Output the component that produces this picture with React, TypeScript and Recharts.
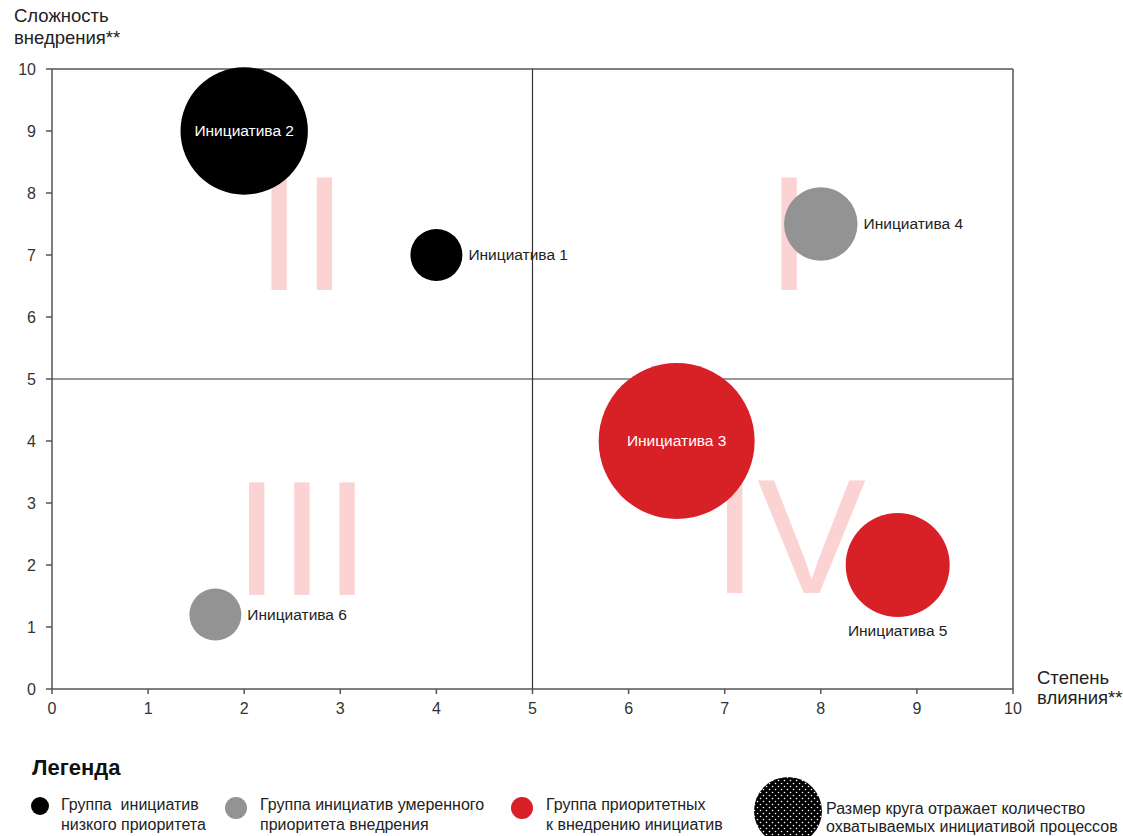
import { ScatterChart, Scatter, XAxis, YAxis, ZAxis, ReferenceLine } from 'recharts';

// initiatives: impact (x), implementation complexity (y), number of processes covered (bubble size)
const initiatives = ['Инициатива 1', 'Инициатива 2', 'Инициатива 3', 'Инициатива 4', 'Инициатива 5', 'Инициатива 6'];
const impact = [4, 2, 6.5, 8, 8.8, 1.7];
const complexity = [7, 9, 4, 7.5, 2, 1.2];
const processes = [2, 12, 18, 4, 8, 2];
const priority = ['low', 'low', 'high', 'moderate', 'high', 'moderate'];

// quadrant numerals
const quadrantNames = ['I', 'II', 'III', 'IV'];
const quadrantX = [7.67, 2.6, 2.6, 7.67];
const quadrantY = [6.43, 6.43, 1.52, 1.55];

const axisTicks = [0, 1, 2, 3, 4, 5, 6, 7, 8, 9, 10];

const legendItems = [
    'Группа  инициатив\nнизкого приоритета',
    'Группа инициатив умеренного\nприоритета внедрения',
    'Группа приоритетных\nк внедрению инициатив',
];

const FONT = '"Liberation Sans", Arial, sans-serif';
const GROUP_COLOR: Record<string, string> = { low: '#000000', moderate: '#939393', high: '#d82027' };
const LABEL_SIDE: Record<string, string> = {
    'Инициатива 1': 'right',
    'Инициатива 2': 'inside',
    'Инициатива 3': 'inside',
    'Инициатива 4': 'right',
    'Инициатива 5': 'below',
    'Инициатива 6': 'right',
};
const MAX_R = 78;

const points = initiatives.map((name, i) => ({
    name,
    x: impact[i],
    y: complexity[i],
    z: processes[i],
    group: priority[i],
}));

const quadrants = quadrantNames.map((name, i) => ({ name, x: quadrantX[i], y: quadrantY[i] }));

function Bubble(props: any) {
    const { cx, cy, payload } = props;
    const r = props.width ? props.width / 2 : Math.sqrt((props.size || 0) / Math.PI);
    const side = LABEL_SIDE[payload.name];
    let label = null;
    if (side === 'inside') {
        label = <text x={cx} y={cy + 5} textAnchor="middle" fill="#fff" fontSize={15.5} fontFamily={FONT}>{payload.name}</text>;
    } else if (side === 'right') {
        label = <text x={cx + r + 6} y={cy + 5} textAnchor="start" fill="#222" fontSize={15.5} fontFamily={FONT}>{payload.name}</text>;
    } else {
        label = <text x={cx} y={cy + r + 19} textAnchor="middle" fill="#222" fontSize={15.5} fontFamily={FONT}>{payload.name}</text>;
    }
    return (
        <g>
            <circle cx={cx} cy={cy} r={r} fill={GROUP_COLOR[payload.group]} />
            {label}
        </g>
    );
}

function Numeral(props: any) {
    const { cx, cy, payload } = props;
    return (
        <text x={cx} y={cy} textAnchor="middle" fill="#fbd3d3" fontSize={163} fontFamily={FONT}>{payload.name}</text>
    );
}

const tickStyle = { fontSize: 16, fill: '#333', fontFamily: FONT };
const axisStroke = { stroke: '#555', strokeWidth: 1.5 };

export default function App() {
    return (
        <div style={{ position: 'absolute', left: 0, top: 0, width: 1123, height: 836, background: '#fff', fontFamily: FONT, color: '#222', overflow: 'hidden' }}>
            <div style={{ position: 'absolute', left: 14, top: 5, fontSize: 18.5, lineHeight: '22px' }}>
                Сложность<br />внедрения**
            </div>
            <div style={{ position: 'absolute', left: 1037, top: 668, fontSize: 18.5, lineHeight: '20px' }}>
                Степень<br />влияния**
            </div>
            <ScatterChart width={1123} height={740} margin={{ top: 69, right: 110, bottom: 21, left: 0 }}>
                <XAxis type="number" dataKey="x" domain={[0, 10]} ticks={axisTicks} interval={0}
                    height={30} tickSize={5} tickMargin={9} tick={tickStyle}
                    axisLine={axisStroke} tickLine={axisStroke} />
                <YAxis type="number" dataKey="y" domain={[0, 10]} ticks={axisTicks} interval={0}
                    width={52} tickSize={6} tickMargin={10} tick={tickStyle}
                    axisLine={axisStroke} tickLine={axisStroke} />
                <ZAxis type="number" dataKey="z" domain={[0, 18]} range={[0, Math.PI * MAX_R * MAX_R]} />
                <ReferenceLine y={10} stroke="#555" strokeWidth={1.5} />
                <ReferenceLine x={10} stroke="#555" strokeWidth={1.5} />
                <ReferenceLine y={5} stroke="#333" strokeWidth={1.2} />
                <ReferenceLine x={5} stroke="#333" strokeWidth={1.2} />
                <Scatter data={quadrants} shape={<Numeral />} isAnimationActive={false} />
                <Scatter data={points} shape={<Bubble />} isAnimationActive={false} />
            </ScatterChart>

            <div style={{ position: 'absolute', left: 32, top: 755, fontSize: 22, fontWeight: 'bold', color: '#111' }}>Легенда</div>
            <svg width={1123} height={96} style={{ position: 'absolute', left: 0, top: 740 }}>
                <defs>
                    <pattern id="dots" width={6} height={6} patternUnits="userSpaceOnUse">
                        <rect width={6} height={6} fill="#000" />
                        <circle cx={1.5} cy={1.5} r={0.8} fill="#fff" />
                        <circle cx={4.5} cy={4.5} r={0.8} fill="#fff" />
                    </pattern>
                </defs>
                <circle cx={40} cy={66} r={9} fill={GROUP_COLOR.low} />
                <circle cx={236} cy={68} r={11} fill={GROUP_COLOR.moderate} />
                <circle cx={522} cy={68} r={11} fill={GROUP_COLOR.high} />
                <circle cx={788} cy={71} r={34} fill="url(#dots)" />
            </svg>
            {legendItems.map((t, i) => (
                <div key={i} style={{ position: 'absolute', left: [61, 260, 546][i], top: 795, fontSize: 16, lineHeight: '20px', whiteSpace: 'pre' }}>{t}</div>
            ))}
            <div style={{ position: 'absolute', left: 826, top: 800, fontSize: 16, lineHeight: '18px', whiteSpace: 'pre' }}>
                {'Размер круга отражает количество\nохватываемых инициативой процессов'}
            </div>
        </div>
    );
}
